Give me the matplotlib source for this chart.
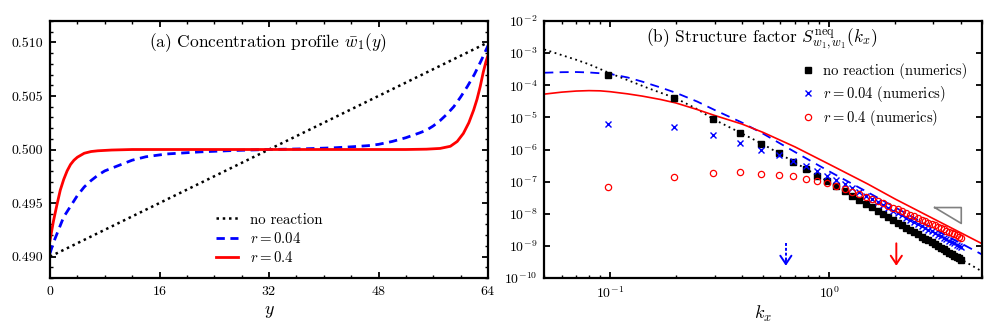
import matplotlib
matplotlib.use("Agg")
import matplotlib.pyplot as plt
from matplotlib.ticker import (MultipleLocator, FormatStrFormatter, LogLocator,
                               NullLocator, NullFormatter)

plt.rcParams.update({
    "font.family": "serif",
    "font.serif": ["cmr10"],
    "mathtext.fontset": "cm",
    "axes.formatter.use_mathtext": True,
})

# ---------------- panel (a): concentration profile ----------------
y_noreact = [0, 64]
w_noreact = [0.490, 0.510]

y_r004 = [0, 0.5, 1, 2, 3, 4, 5, 6, 7, 8, 10, 12, 14, 17, 22, 27, 32, 37, 41.5,
          44, 46.5, 48, 50, 52, 54, 55, 56, 57, 58, 59, 60, 61, 62, 63, 63.5, 64]
w_r004 = [0.4903, 0.4913, 0.4921, 0.4937, 0.4947, 0.4957, 0.4965, 0.4971, 0.4976,
          0.4980, 0.4985, 0.4990, 0.49932, 0.49958, 0.49978, 0.49991, 0.5000,
          0.50006, 0.50016, 0.50025, 0.50036, 0.50048, 0.50075, 0.5011, 0.50155,
          0.5018, 0.5022, 0.5027, 0.5033, 0.5040, 0.5049, 0.5059, 0.5070, 0.5083,
          0.5090, 0.5097]

y_r04 = [0, 0.5, 1, 1.5, 2, 2.5, 3, 3.5, 4, 5, 6, 7, 9, 12, 32, 52, 55, 57, 58.5,
         59.5, 60.4, 61.2, 61.9, 62.4, 62.86, 63.3, 63.7, 64]
w_r04 = [0.4915, 0.4933, 0.4948, 0.4962, 0.4972, 0.4980, 0.4986, 0.4990, 0.49928,
         0.49965, 0.49981, 0.49988, 0.49995, 0.5000, 0.5000, 0.5000, 0.50003,
         0.5001, 0.5003, 0.50075, 0.5015, 0.5025, 0.50368, 0.5047, 0.50587,
         0.5072, 0.5082, 0.5088]

# ---------------- panel (b): structure factor ----------------
k_th_noreact = [0.05, 0.06, 0.07, 0.08, 0.1, 0.12, 0.15, 0.2, 0.25, 0.3, 0.4, 0.5,
                0.7, 1.0, 1.5, 2.0, 3.0, 5.0]
S_th_noreact = [1.3e-3, 8.7e-4, 6.2e-4, 4.5e-4, 2.35e-4, 1.45e-4, 8.0e-5, 3.9e-5,
                1.8e-5, 8.4e-6, 3.15e-6, 1.45e-6, 3.9e-7, 9.6e-8, 1.92e-8, 6.1e-9,
                1.2e-9, 1.6e-10]

k_th_r004 = [0.05, 0.06, 0.07, 0.08, 0.1, 0.12, 0.14, 0.17, 0.2, 0.25, 0.3, 0.4,
             0.5, 0.7, 1.0, 1.5, 2.0, 3.0, 5.0]
S_th_r004 = [2.45e-4, 2.55e-4, 2.58e-4, 2.5e-4, 2.25e-4, 1.75e-4, 1.3e-4, 8.5e-5,
             5.8e-5, 3.1e-5, 1.7e-5, 6.9e-6, 3.1e-6, 8.3e-7, 2.1e-7, 4.7e-8,
             1.6e-8, 3.4e-9, 5.4e-10]

k_th_r04 = [0.05, 0.06, 0.07, 0.08, 0.09, 0.1, 0.12, 0.14, 0.17, 0.2, 0.25, 0.3,
            0.4, 0.5, 0.7, 1.0, 1.5, 2.0, 3.0, 5.0]
S_th_r04 = [5.3e-5, 6.1e-5, 6.6e-5, 6.8e-5, 6.7e-5, 6.3e-5, 5.4e-5, 4.6e-5,
            3.6e-5, 2.8e-5, 1.75e-5, 1.15e-5, 6.2e-6, 3.4e-6, 1.2e-6, 3.5e-7,
            8.5e-8, 2.9e-8, 7.0e-9, 1.17e-9]

k_num = [0.098, 0.196, 0.295, 0.393, 0.491, 0.589, 0.687, 0.785, 0.884, 0.982,
         1.080, 1.178, 1.276, 1.374, 1.473, 1.571, 1.669, 1.767, 1.865, 1.963,
         2.062, 2.160, 2.258, 2.356, 2.454, 2.553, 2.651, 2.749, 2.847, 2.945,
         3.043, 3.142, 3.240, 3.338, 3.436, 3.534, 3.632, 3.731, 3.829, 3.927,
         4.025]
S_num_noreact = [2.1e-4, 4.1e-5, 8.8e-6, 3.3e-6, 1.45e-6, 7.7e-7, 4.1e-7, 2.4e-7,
                 1.5e-7, 1.02e-7, 7.4e-8, 5.0e-8, 3.63e-8, 2.70e-8, 2.05e-8, 1.58e-8,
                 1.24e-8, 9.9e-9, 7.96e-9, 6.49e-9, 5.34e-9, 4.43e-9, 3.71e-9,
                 3.13e-9, 2.66e-9, 2.27e-9, 1.95e-9, 1.69e-9, 1.47e-9, 1.28e-9,
                 1.12e-9, 9.9e-10, 8.75e-10, 7.77e-10, 6.92e-10, 6.18e-10, 5.54e-10,
                 4.98e-10, 4.49e-10, 4.05e-10, 3.67e-10]
S_num_r004 = [6.4e-6, 5.0e-6, 2.9e-6, 1.62e-6, 1.0e-6, 6.6e-7, 4.4e-7, 3.0e-7,
              2.1e-7, 1.55e-7, 1.14e-7, 8.28e-8, 6.16e-8, 4.69e-8, 3.64e-8, 2.87e-8,
              2.30e-8, 1.86e-8, 1.53e-8, 1.26e-8, 1.06e-8, 8.89e-9, 7.55e-9,
              6.46e-9, 5.56e-9, 4.81e-9, 4.18e-9, 3.66e-9, 3.22e-9, 2.84e-9,
              2.52e-9, 2.24e-9, 2.00e-9, 1.79e-9, 1.61e-9, 1.45e-9, 1.31e-9,
              1.19e-9, 1.08e-9, 9.85e-10, 9.0e-10]
S_num_r04 = [6.6e-8, 1.38e-7, 1.82e-7, 2.0e-7, 1.78e-7, 1.66e-7, 1.46e-7, 1.25e-7,
             1.05e-7, 9.0e-8, 7.3e-8, 5.92e-8, 4.86e-8, 4.03e-8, 3.38e-8, 2.85e-8,
             2.43e-8, 2.09e-8, 1.80e-8, 1.56e-8, 1.36e-8, 1.20e-8, 1.05e-8,
             9.32e-9, 8.28e-9, 7.38e-9, 6.60e-9, 5.92e-9, 5.32e-9, 4.80e-9,
             4.35e-9, 3.94e-9, 3.58e-9, 3.27e-9, 2.98e-9, 2.73e-9, 2.50e-9,
             2.30e-9, 2.11e-9, 1.95e-9, 1.80e-9]

arrow_k_r004 = 0.635
arrow_k_r04 = 2.03
arrow_S = [1.2e-9, 2.4e-10]
slope_tri_k = [3.04, 4.02, 4.02, 3.04]
slope_tri_S = [1.56e-8, 1.56e-8, 5.0e-9, 1.56e-8]

fig = plt.figure(figsize=(9.97, 3.32), dpi=100)
axA = fig.add_axes([50/997, 1-278/332, 438/997, 257/332])
axB = fig.add_axes([544.3/997, 1-278/332, 437.7/997, 257/332])

for ax in (axA, axB):
    for s in ax.spines.values():
        s.set_linewidth(1.6)
    ax.tick_params(which="both", direction="in", top=True, right=True,
                   labelsize=10, width=1.3)
    ax.tick_params(which="major", length=4.5, pad=5)
    ax.tick_params(which="minor", length=2.5, width=1.0)

# ---- panel a ----
axA.plot(y_noreact, w_noreact, color="black", ls=(0, (1, 1.5)), lw=1.8,
         label="no reaction")
axA.plot(y_r004, w_r004, color="blue", ls=(0, (3, 2)), lw=2.0, label="$r = 0.04$")
axA.plot(y_r04, w_r04, color="red", ls="-", lw=2.0, label="$r = 0.4$")
axA.set_xlim(0, 64)
axA.set_ylim(0.488, 0.512)
axA.xaxis.set_major_locator(MultipleLocator(16))
axA.xaxis.set_minor_locator(MultipleLocator(4))
axA.yaxis.set_major_locator(MultipleLocator(0.005))
axA.yaxis.set_minor_locator(MultipleLocator(0.001))
axA.yaxis.set_major_formatter(FormatStrFormatter("%.3f"))
axA.set_xlabel("$y$", fontsize=13, labelpad=4)
axA.text(0.498, 0.916, r"(a) Concentration profile $\bar{w}_1(y)$",
         transform=axA.transAxes, ha="center", va="center", fontsize=12.5)
axA.legend(loc="center left", bbox_to_anchor=(0.378, 0.152), frameon=False,
           fontsize=10.7, handlelength=1.5, handletextpad=0.8, labelspacing=0.28,
           borderpad=0, borderaxespad=0)

# ---- panel b ----
axB.set_xscale("log")
axB.set_yscale("log")
axB.plot(k_th_noreact, S_th_noreact, color="black", ls=(0, (1, 2)), lw=1.3)
axB.plot(k_th_r004, S_th_r004, color="blue", ls=(0, (5, 3.5)), lw=1.3)
axB.plot(k_th_r04, S_th_r04, color="red", ls="-", lw=1.2)
h0, = axB.plot(k_num, S_num_noreact, ls="none", marker="s", ms=4.3,
               color="black", label="no reaction (numerics)")
h1, = axB.plot(k_num, S_num_r004, ls="none", marker="x", ms=4.3, mew=1.0,
               color="blue", label="$r = 0.04$ (numerics)")
h2, = axB.plot(k_num, S_num_r04, ls="none", marker="o", ms=4.5, mew=0.9,
               mfc="none", mec="red", label="$r = 0.4$ (numerics)")

# arrows
axB.plot([arrow_k_r004, arrow_k_r004], [arrow_S[0], arrow_S[1] * 1.15],
         color="blue", ls=(0, (1.5, 1.0)), lw=1.4)
axB.annotate("", xy=(arrow_k_r004, arrow_S[1]), xytext=(arrow_k_r004, arrow_S[1] * 1.6),
             arrowprops=dict(arrowstyle="->,head_length=0.6,head_width=0.4",
                             color="blue", lw=1.4, shrinkA=0, shrinkB=0))
axB.annotate("", xy=(arrow_k_r04, arrow_S[1]), xytext=(arrow_k_r04, arrow_S[0]),
             arrowprops=dict(arrowstyle="->,head_length=0.6,head_width=0.4",
                             color="red", lw=1.4, shrinkA=0, shrinkB=0))
axB.plot(slope_tri_k, slope_tri_S, color="gray", lw=1.2)

axB.set_xlim(0.05, 5)
axB.set_ylim(1e-10, 1e-2)
axB.yaxis.set_major_locator(LogLocator(base=10, numticks=20))
axB.yaxis.set_minor_locator(NullLocator())
axB.xaxis.set_major_locator(LogLocator(base=10, numticks=20))
axB.xaxis.set_minor_locator(LogLocator(base=10, subs=range(2, 10), numticks=20))
axB.xaxis.set_minor_formatter(NullFormatter())
axB.set_xlabel("$k_x$", fontsize=13, labelpad=2)
axB.text(0.497, 0.93, r"(b) Structure factor $S^{\mathrm{neq}}_{w_1,w_1}(k_x)$",
         transform=axB.transAxes, ha="center", va="center", fontsize=12.5)
axB.legend(handles=[h0, h1, h2], loc="center left", bbox_to_anchor=(0.59, 0.709),
           frameon=False, fontsize=10.5, handlelength=0.8, handletextpad=0.6,
           labelspacing=0.3, borderpad=0, borderaxespad=0, numpoints=1)

fig.savefig("out.png", dpi=100)
